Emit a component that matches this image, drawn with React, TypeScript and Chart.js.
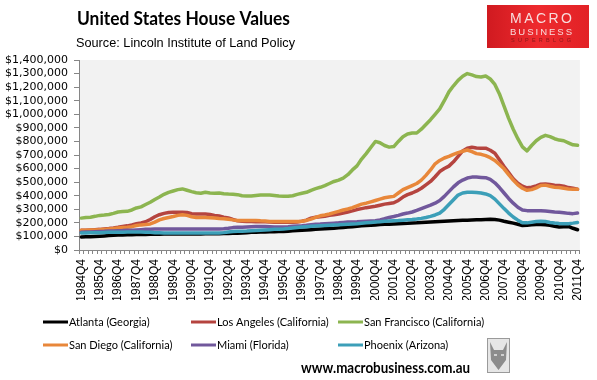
import React, { useEffect, useRef } from "react";
import { Chart, registerables } from "chart.js";

Chart.register(...registerables);

const START_YEAR = 1984;
const quarters: string[] = [];
{
  quarters.push(`${START_YEAR}Q4`);
  for (let y = START_YEAR + 1; y <= 2011; y++) {
    for (let q = 1; q <= 4; q++) quarters.push(`${y}Q${q}`);
  }
}

const yTicks = [0, 100000, 200000, 300000, 400000, 500000, 600000, 700000, 800000, 900000, 1000000, 1100000, 1200000, 1300000, 1400000];

// values in $ thousands
const atlanta = [
  96, 97, 98, 100, 102, 104, 106, 108, 110, 111, 112, 113, 114, 115, 115, 116, 116, 116, 117, 117, 117,
  117, 118, 118, 118, 118, 118, 119, 119, 120, 120, 121, 122, 123, 124, 126, 128, 130, 131, 132, 133,
  134, 135, 136, 137, 139, 141, 143, 146, 148, 150, 152, 154, 156, 158, 160, 163, 166, 169, 172, 175,
  178, 181, 183, 185, 187, 189, 190, 192, 194, 196, 197, 199, 200, 202, 204, 206, 208, 210, 212, 214,
  216, 218, 219, 220, 221, 222, 223, 225, 226, 225, 220, 212, 205, 198, 190, 180, 182, 186, 188, 188,
  186, 182, 175, 170, 172, 174, 160, 149,
];
const losAngeles = [
  145, 145, 148, 150, 152, 155, 158, 162, 167, 173, 178, 185, 193, 200, 208, 225, 245, 260, 270, 276, 278,
  279, 278, 277, 267, 265, 265, 265, 262, 255, 250, 242, 236, 225, 215, 212, 210, 210, 209, 208, 208,
  207, 205, 205, 205, 205, 205, 207, 212, 220, 235, 242, 245, 248, 255, 260, 265, 272, 280, 288, 298,
  305, 312, 317, 322, 330, 338, 343, 348, 365, 390, 408, 420, 435, 455, 480, 505, 540, 578, 600, 618,
  650, 690, 730, 750, 757, 752, 750, 750, 735, 713, 665, 615, 570, 525, 492, 470, 458, 462, 472, 485,
  487, 483, 478, 475, 470, 460, 455, 448,
];
const sanFrancisco = [
  235, 240, 242, 248, 255, 258, 262, 270, 280, 283, 285, 295, 310, 318, 335, 352, 372, 390, 410, 425, 435,
  445, 450, 440, 430, 422, 418, 425, 420, 418, 420, 415, 412, 410, 408, 400, 398, 398, 402, 405, 405,
  405, 402, 398, 396, 396, 400, 410, 418, 425, 440, 452, 462, 475, 490, 505, 515, 530, 555, 590, 620,
  670, 710, 755, 800, 790, 770, 758, 762, 800, 835, 855, 862, 862, 890, 925, 960, 1000, 1040, 1100, 1165,
  1210, 1250, 1280, 1300, 1290, 1278, 1275, 1282, 1260, 1220, 1150, 1060, 970, 890, 820, 760, 730, 770, 805, 830,
  845, 835, 820, 810, 805, 790, 775, 772,
];
const sanDiego = [
  145, 146, 147, 148, 150, 152, 155, 158, 162, 165, 168, 172, 180, 185, 188, 192, 205, 222, 232, 240, 247,
  255, 260, 255, 245, 240, 240, 240, 238, 235, 232, 230, 227, 222, 218, 218, 218, 218, 218, 215, 213,
  210, 210, 210, 210, 210, 210, 210, 212, 218, 228, 240, 252, 258, 265, 275, 285, 295, 302, 312, 325,
  338, 345, 355, 365, 375, 385, 390, 395, 420, 445, 460, 475, 490, 515, 550, 590, 635, 660, 678, 690,
  705, 718, 728, 737, 725, 710, 705, 695, 680, 660, 630, 598, 555, 515, 480, 455, 440, 445, 458, 475,
  478, 470, 463, 460, 455, 450, 448, 448,
];
const miami = [
  130, 132, 133, 135, 137, 138, 140, 140, 142, 143, 145, 146, 148, 150, 152, 153, 154, 154, 155, 155, 155,
  155, 155, 155, 154, 154, 154, 154, 154, 154, 155, 156, 160, 165, 167, 168, 170, 172, 173, 174, 174,
  172, 170, 169, 170, 172, 175, 177, 179, 182, 186, 189, 191, 194, 196, 198, 200, 203, 206, 207, 208,
  210, 212, 214, 216, 222, 230, 240, 247, 255, 265, 272, 280, 292, 305, 318, 330, 345, 365, 395, 430,
  465, 495, 515, 530, 537, 537, 535, 533, 520, 495, 460, 420, 380, 345, 315, 295, 290, 290, 290, 290,
  288, 284, 280, 278, 275, 270, 268, 272,
];
const phoenix = [
  125, 126, 127, 128, 128, 129, 130, 130, 131, 131, 132, 132, 132, 132, 131, 130, 128, 127, 126, 125, 125,
  125, 125, 125, 125, 125, 125, 125, 125, 125, 125, 128, 133, 137, 138, 139, 140, 142, 144, 146, 148,
  150, 152, 153, 155, 158, 162, 166, 169, 172, 175, 177, 179, 181, 183, 185, 186, 188, 190, 192, 194,
  197, 200, 203, 206, 208, 211, 213, 215, 217, 220, 222, 224, 228, 233, 240, 248, 258, 272, 300, 335,
  370, 405, 420, 425, 426, 424, 420, 413, 400, 375, 340, 305, 272, 243, 220, 200, 200, 205, 210, 212,
  210, 203, 199, 196, 194, 194, 198, 203,
];

const seriesNames = [
  "Atlanta (Georgia)",
  "Los Angeles (California)",
  "San Francisco (California)",
  "San Diego (California)",
  "Miami (Florida)",
  "Phoenix (Arizona)",
];
const seriesValues = [atlanta, losAngeles, sanFrancisco, sanDiego, miami, phoenix];
const seriesColors = ["#000000", "#b5443f", "#8cb550", "#e8873a", "#71589c", "#3c9fb8"];

const TITLE = "United States House Values";
const SUBTITLE = "Source: Lincoln Institute of Land Policy";
const URL_TEXT = "www.macrobusiness.com.au";

function fitText(ctx: CanvasRenderingContext2D, text: string, x: number, y: number, width: number, font: string, color: string) {
  ctx.save();
  ctx.font = font;
  ctx.fillStyle = color;
  ctx.textBaseline = "alphabetic";
  ctx.textAlign = "left";
  const w = ctx.measureText(text).width;
  ctx.translate(x, y);
  ctx.scale(width / w, 1);
  ctx.fillText(text, 0, 0);
  ctx.restore();
}

function spreadText(ctx: CanvasRenderingContext2D, text: string, x0: number, x1: number, y: number, font: string, color: string) {
  ctx.save();
  ctx.font = font;
  ctx.fillStyle = color;
  ctx.textBaseline = "alphabetic";
  ctx.textAlign = "left";
  const chars = text.split("");
  const widths = chars.map((c) => ctx.measureText(c).width);
  const total = widths.reduce((a, b) => a + b, 0);
  const gap = (x1 - x0 - total) / (chars.length - 1);
  let x = x0;
  chars.forEach((c, i) => {
    ctx.fillText(c, x, y);
    x += widths[i] + gap;
  });
  ctx.restore();
}

const bgPlugin = {
  id: "plotBg",
  beforeDraw(chart: any) {
    const { ctx, chartArea } = chart;
    ctx.save();
    ctx.fillStyle = "#ffffff";
    ctx.fillRect(0, 0, chart.width, chart.height);
    ctx.fillStyle = "#f2f2f2";
    ctx.fillRect(chartArea.left, chartArea.top, chartArea.right - chartArea.left, chartArea.bottom - chartArea.top);
    ctx.restore();
  },
};

const decorPlugin = {
  id: "decor",
  afterDraw(chart: any) {
    const ctx: CanvasRenderingContext2D = chart.ctx;
    // Title & subtitle
    fitText(ctx, TITLE, 77, 25, 213, "bold 18px Lato", "#000000");
    fitText(ctx, SUBTITLE, 76, 46.5, 219, "13px 'Liberation Sans'", "#000000");

    // Logo
    ctx.save();
    const g = ctx.createLinearGradient(487, 0, 589, 0);
    g.addColorStop(0, "#d01a20");
    g.addColorStop(0.5, "#ee2a2e");
    g.addColorStop(1, "#e22226");
    ctx.fillStyle = g;
    ctx.fillRect(487, 5, 102, 43);
    ctx.restore();
    spreadText(ctx, "MACRO", 510, 572, 23.3, "14px 'Liberation Sans'", "#f8dcdc");
    spreadText(ctx, "BUSINESS", 510, 572, 35, "9.5px 'Liberation Sans'", "#f8dcdc");
    spreadText(ctx, "SUPERBLOG", 511, 571, 42, "5.5px 'Liberation Sans'", "#8a1a1a");

    // Legend
    const cols = [43, 191, 338];
    const rows = [322, 345];
    seriesNames.forEach((name, i) => {
      const cx = cols[i % 3];
      const cy = rows[Math.floor(i / 3)];
      ctx.save();
      ctx.strokeStyle = seriesColors[i];
      ctx.lineWidth = 3;
      ctx.beginPath();
      ctx.moveTo(cx, cy);
      ctx.lineTo(cx + 25, cy);
      ctx.stroke();
      ctx.font = "11px Lato";
      ctx.fillStyle = "#000000";
      ctx.textBaseline = "middle";
      ctx.textAlign = "left";
      ctx.fillText(name, cx + 26, cy);
      ctx.restore();
    });

    // URL
    fitText(ctx, URL_TEXT, 301, 373, 169, "bold 15px Lato", "#000000");

    // Wolf badge
    ctx.save();
    ctx.fillStyle = "#e6e6e6";
    ctx.fillRect(487, 338, 23, 35);
    ctx.strokeStyle = "#9a9a9a";
    ctx.lineWidth = 1;
    ctx.strokeRect(487.5, 338.5, 22, 34);
    ctx.fillStyle = "#8c8c8c";
    ctx.beginPath();
    ctx.moveTo(490, 342);
    ctx.lineTo(494, 350);
    ctx.lineTo(503, 350);
    ctx.lineTo(507, 342);
    ctx.lineTo(506, 360);
    ctx.lineTo(498.5, 370);
    ctx.lineTo(491, 360);
    ctx.closePath();
    ctx.fill();
    ctx.fillStyle = "#d0d0d0";
    ctx.fillRect(494, 354, 3, 2);
    ctx.fillRect(501, 354, 3, 2);
    ctx.restore();
  },
};

export default function App() {
  const ref = useRef<HTMLCanvasElement | null>(null);

  useEffect(() => {
    if (!ref.current) return;
    const datasets = seriesNames.map((name, i) => ({
      label: name,
      data: seriesValues[i].map((v) => v * 1000),
      borderColor: seriesColors[i],
      backgroundColor: seriesColors[i],
      borderWidth: 3.5,
      pointRadius: 0,
      tension: 0,
      fill: false,
      order: -i,
    }));
    const chart = new Chart(ref.current, {
      type: "line",
      data: { labels: quarters, datasets },
      options: {
        responsive: false,
        animation: false,
        devicePixelRatio: 1,
        layout: { padding: { left: 0, right: 7, top: 60, bottom: 80 } },
        plugins: {
          legend: { display: false },
          tooltip: { enabled: false },
        },
        elements: {
          line: { borderCapStyle: "round", borderJoinStyle: "round" },
          point: { radius: 0 },
        },
        scales: {
          x: {
            offset: true,
            grid: { offset: true, drawOnChartArea: false, drawTicks: true, tickLength: 4, color: "#868686" },
            border: { color: "#868686" },
            ticks: {
              autoSkip: false,
              maxRotation: 90,
              minRotation: 90,
              padding: 5,
              color: "#000000",
              font: { family: "'Liberation Sans'", size: 12 },
              callback: (_v: any, i: number) => (i % 4 === 0 ? quarters[i] : ""),
            },
            afterFit: (s: any) => {
              s.height = 50;
            },
          },
          y: {
            min: 0,
            max: yTicks[yTicks.length - 1],
            afterBuildTicks: (s: any) => {
              s.ticks = yTicks.map((v) => ({ value: v }));
            },
            ticks: {
              autoSkip: false,
              padding: 6,
              color: "#000000",
              font: { family: "'DejaVu Sans'", size: 11 },
              callback: (v: any) => "$" + Number(v).toLocaleString("en-US"),
            },
            grid: { drawOnChartArea: false, drawTicks: true, tickLength: 5, color: "#868686" },
            border: { color: "#868686" },
            afterFit: (s: any) => {
              s.width = 79;
            },
          },
        },
      } as any,
      plugins: [bgPlugin, decorPlugin],
    });
    return () => chart.destroy();
  }, []);

  return (
    <div style={{ position: "fixed", left: 0, top: 0, width: 597, height: 380 }}>
      <canvas ref={ref} width={597} height={380} style={{ display: "block" }} />
    </div>
  );
}
